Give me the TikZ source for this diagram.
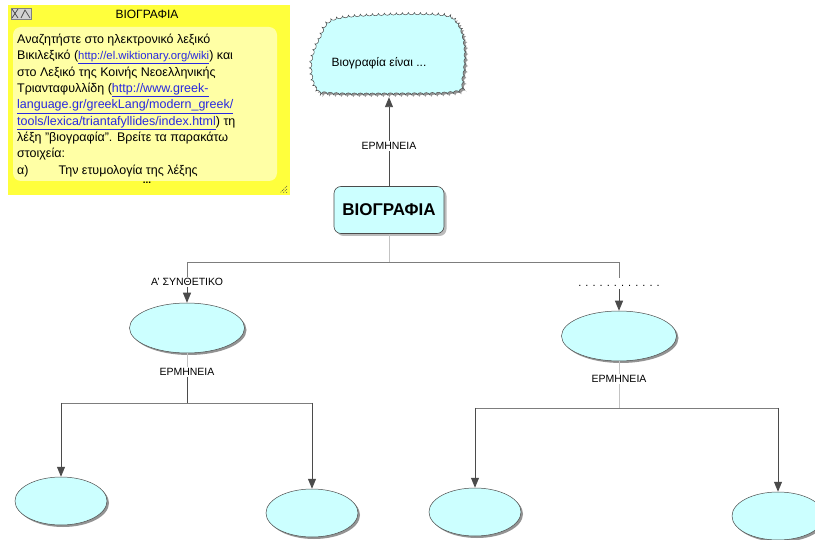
\documentclass[tikz,border=0pt]{standalone}
\usepackage{fontspec}
\setmainfont{Liberation Sans}
\usetikzlibrary{shapes.geometric,shadows,arrows.meta,decorations.pathmorphing}
\definecolor{nodecyan}{RGB}{204,255,255}
\definecolor{noteyellow}{RGB}{255,255,60}
\definecolor{noteinner}{RGB}{255,255,165}
\definecolor{darkline}{RGB}{75,75,75}
\definecolor{midline}{RGB}{125,125,125}
\definecolor{lightline}{RGB}{195,195,195}
\definecolor{linkblue}{RGB}{40,40,225}
\definecolor{shadowgray}{RGB}{120,120,120}
\newcommand{\weblink}[1]{\textcolor{linkblue}{\underline{#1}}}
\begin{document}
\begin{tikzpicture}[x=1pt,y=-1pt,
  bubble/.style={ellipse, draw=darkline, fill=nodecyan, line width=0.5pt,
    minimum width=115pt, minimum height=50pt, inner sep=0pt,
    drop shadow={shadow xshift=2pt, shadow yshift=-2pt, fill=shadowgray, opacity=0.8}},
  smallbubble/.style={bubble, minimum width=92pt, minimum height=48pt},
  lbl/.style={font=\fontsize{10.5}{12}\selectfont, fill=white, inner sep=1.5pt},
  conn/.style={draw=darkline, line width=0.9pt},
  hconn/.style={draw=midline, line width=0.8pt},
  lconn/.style={draw=lightline, line width=0.8pt},
  arr/.style={conn, -{Triangle[width=8pt,length=10pt]}},
]
\useasboundingbox (0,0) rectangle (815,540);
\clip (0,0) rectangle (815,540);

% ---- note ----
\fill[noteyellow] (8,5) rectangle (290,195);
\fill[noteinner, rounded corners=8pt] (13,27) rectangle (277,181);
\node[font=\fontsize{12}{13}\selectfont] (notetitle) at (147,14) {ΒΙΟΓΡΑΦΙΑ};
\node[draw=gray, fill=gray!35, minimum width=20pt, minimum height=11pt, inner sep=0pt] (noteicon) at (21,14) {};
\draw[darkline, line width=0.7pt] (12,9) -- (18,18) (18,9) -- (12,18) (21,18) -- (25,10) -- (30,18);
\node[anchor=north west, align=left, inner sep=0pt,
      font=\fontsize{12.5}{16.3}\selectfont] (notetext) at (17,34)
 {Αναζητήστε στο ηλεκτρονικό λεξικό\\
  Βικιλεξικό ({\fontsize{11.3}{16.3}\selectfont\weblink{http://el.wiktionary.org/wiki}}) και\\
  στο Λεξικό της Κοινής Νεοελληνικής\\
  Τριανταφυλλίδη (\weblink{http://www.greek-}\\
  \weblink{language.gr/greekLang/modern\_greek/}\\
  \weblink{tools/lexica/triantafyllides/index.html}) τη\\
  λέξη "βιογραφία". Βρείτε τα παρακάτω\\
  στοιχεία:\\
  α)\hspace{30pt}Την ετυμολογία της λέξης};
\node[font=\fontsize{10}{10}\selectfont\bfseries, inner sep=0pt] (notemore) at (147,183) {...};
\foreach \i in {0,1,2}{
  \draw[darkline, line width=0.7pt, dash pattern=on 1pt off 1pt] (287,186+\i*3) -- (280+\i*3,193);
}

% ---- cloud ----
\path[draw=darkline, line width=0.5pt, fill=nodecyan,
      decorate, decoration={bumps, segment length=12pt, amplitude=2.2pt},
      drop shadow={shadow xshift=2pt, shadow yshift=-2pt, fill=shadowgray, opacity=0.8}]
  plot[smooth cycle, tension=0.55] coordinates {
    (318,38) (310,62) (313,85) (326,94) (390,95) (455,93) (464,80)
    (466,48) (460,25) (444,14) (390,13) (334,18)};
\node[rectangle, minimum width=160pt, minimum height=90pt, inner sep=0pt] (cloud) at (388,52) {};
\node[font=\fontsize{12}{13}\selectfont] (cloudtext) at (379,63) {Βιογραφία είναι ...};

% ---- main node ----
\node[draw=darkline, fill=nodecyan, rounded corners=7pt, line width=0.6pt,
      minimum width=110pt, minimum height=47pt,
      font=\fontsize{17}{18}\selectfont\bfseries,
      drop shadow={shadow xshift=2.5pt, shadow yshift=-2.5pt, fill=shadowgray}] (main) at (389,210) {ΒΙΟΓΡΑΦΙΑ};

\draw[arr] (main.north) -- node[lbl, pos=0.45] (erm0) {ΕΡΜΗΝΕΙΑ} (main.north |- cloud.south);

% ---- level 1 ----
\node[bubble] (e1) at (187,328) {};
\node[bubble] (e2) at (619,336) {};
\node[lbl] (synth) at (187,282) {Α' ΣΥΝΘΕΤΙΚΟ};
\node[lbl, font=\fontsize{11}{11}\selectfont, inner sep=0pt] (dots) at (619,286) {. . . . . . . . . . . .};

\coordinate (j0) at (389,262);
\coordinate (jL) at (187,262);
\coordinate (jR) at (619,262);
\coordinate (jRe) at (619,278);
\draw[lconn] (main.south) -- (j0);
\draw[hconn] (synth.north) -- (jL) -- (jR) -- (jRe);
\draw[arr] (synth.south) -- (e1.north);
\draw[arr] (dots.south) ++(0,2) -- (e2.north);

% ---- level 2 left ----
\node[lbl] (erm1) at (187,372) {ΕΡΜΗΝΕΙΑ};
\draw[lconn] (e1.south) -- (erm1.north);
\coordinate (k1) at (187,403);
\node[smallbubble] (e11) at (61,501) {};
\node[smallbubble] (e12) at (312,513) {};
\coordinate (k1L) at (61,403);
\coordinate (k1R) at (312,403);
\draw[conn] (erm1.south) -- (k1);
\draw[hconn] (k1L) -- (k1R);
\draw[arr] (k1L) -- (e11.north);
\draw[arr] (k1R) -- (e12.north);

% ---- level 2 right ----
\node[lbl] (erm2) at (619,379) {ΕΡΜΗΝΕΙΑ};
\draw[lconn] (e2.south) -- (erm2.north);
\coordinate (k2) at (619,408);
\node[smallbubble] (e21) at (475,512) {};
\node[smallbubble] (e22) at (778,516) {};
\coordinate (k2L) at (475,408);
\coordinate (k2R) at (778,408);
\draw[lconn] (erm2.south) -- (k2);
\draw[hconn] (k2L) -- (k2R);
\draw[arr] (k2L) -- (e21.north);
\draw[arr] (k2R) -- (e22.north);
\end{tikzpicture}
\end{document}
